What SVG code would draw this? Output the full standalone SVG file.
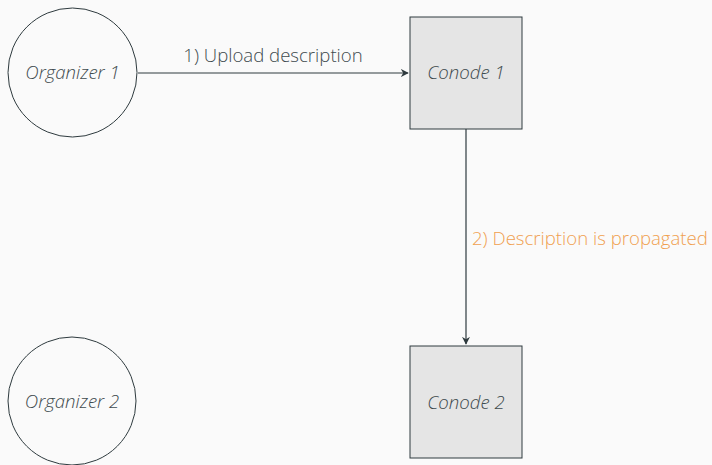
<svg xmlns="http://www.w3.org/2000/svg" width="712" height="465" viewBox="0 0 712 465">
  <style>
    .org { fill: none; stroke: #2e3a3e; stroke-width: 1; }
    .con { fill: #e5e5e5; stroke: #2e3a3e; stroke-width: 1; }
    .name { font-family: "Open Sans", "Noto Sans", sans-serif; font-style: italic; font-weight: 300; font-size: 18.6px; fill: #3e4a4e; text-anchor: middle; }
    .edge { stroke: #2e3a3e; stroke-width: 1.2; fill: none; }
    .lbl { font-family: "Open Sans", "Noto Sans", sans-serif; font-weight: 300; font-size: 18.6px; }
  </style>
  <defs>
    <marker id="arrow" viewBox="0 0 10 10" refX="9" refY="5" markerWidth="8" markerHeight="8" markerUnits="userSpaceOnUse" orient="auto">
      <path d="M0,0 L10,5 L0,10 L3,5 Z" fill="#2e3a3e"/>
    </marker>
  </defs>
  <rect width="712" height="465" fill="#fafafa"/>

  <g id="edges">
    <g id="edge-upload">
      <line class="edge" x1="138" y1="73" x2="408" y2="73" marker-end="url(#arrow)"/>
      <text class="lbl" x="273" y="62" text-anchor="middle" fill="#3e4a4e">1) Upload description</text>
    </g>
    <g id="edge-propagate">
      <line class="edge" x1="466" y1="129" x2="466" y2="344" marker-end="url(#arrow)"/>
      <text class="lbl" x="472" y="245" fill="#f0a050">2) Description is propagated</text>
    </g>
  </g>

  <g id="organizer1">
    <circle class="org" cx="72.5" cy="72.5" r="64.5"/>
    <text class="name" x="72.5" y="79">Organizer 1</text>
  </g>
  <g id="conode1">
    <rect class="con" x="410" y="17" width="112" height="112"/>
    <text class="name" x="466" y="79">Conode 1</text>
  </g>
  <g id="organizer2">
    <circle class="org" cx="72" cy="401" r="64"/>
    <text class="name" x="72" y="408">Organizer 2</text>
  </g>
  <g id="conode2">
    <rect class="con" x="410" y="346" width="112" height="112"/>
    <text class="name" x="466" y="409">Conode 2</text>
  </g>
</svg>
